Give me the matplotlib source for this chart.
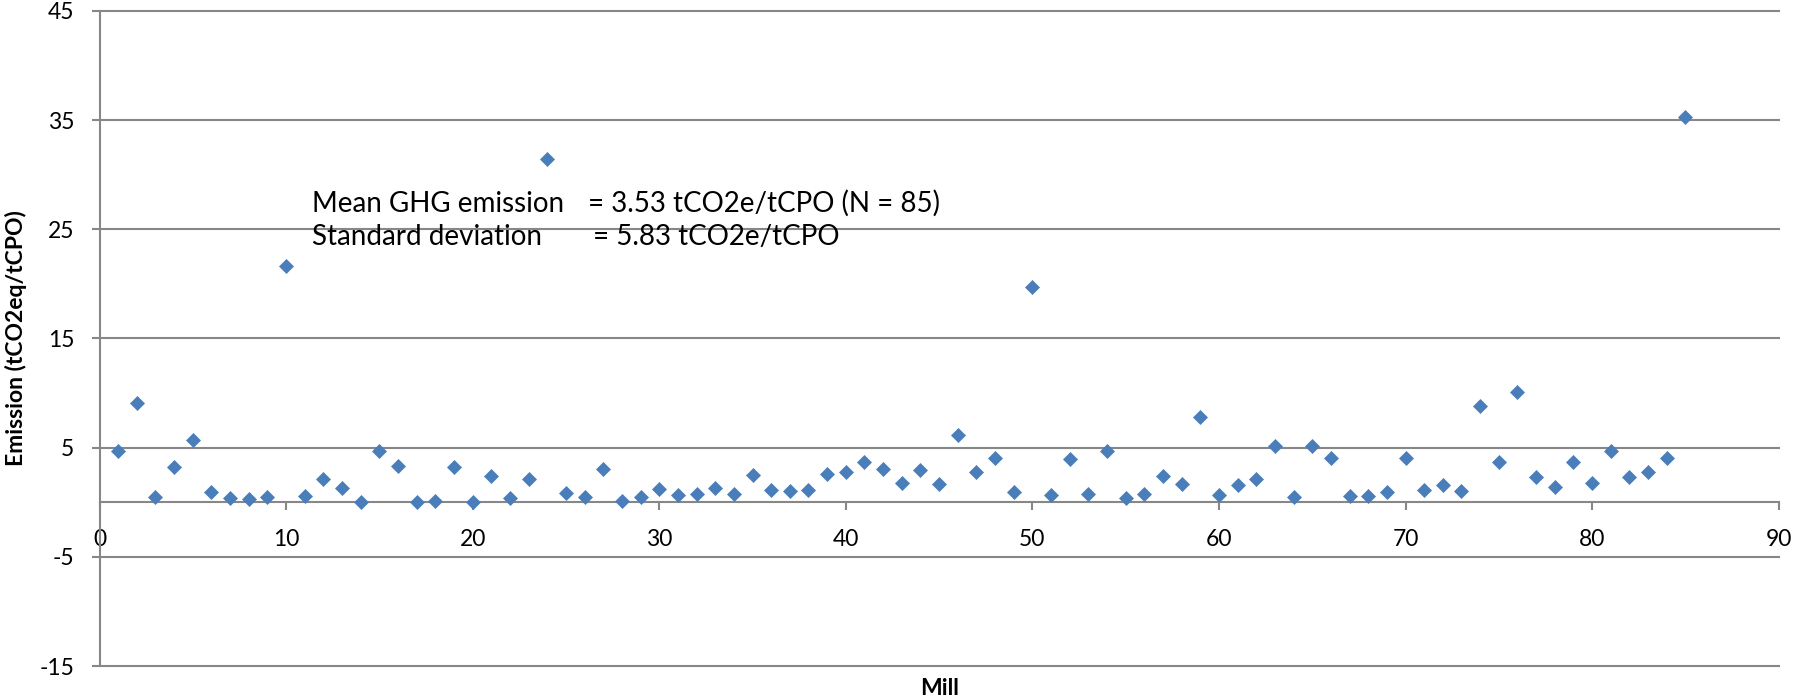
import numpy as np
import matplotlib
matplotlib.use("Agg")
import matplotlib.pyplot as plt

plt.rcParams['font.family'] = ['Lato', 'DejaVu Sans']
plt.rcParams['axes.unicode_minus'] = False

# GHG emission per mill (tCO2eq/tCPO), mills numbered 1..85
mill = np.arange(1, 86)
emission = [
    4.74, 9.05, 0.46, 3.24, 5.69, 0.95, 0.37, 0.28, 0.46, 21.65,
    0.55, 2.17, 1.35, 0.00, 4.68, 3.33, 0.00, 0.15, 3.24, 0.03,
    2.41, 0.43, 2.14, 31.47, 0.89, 0.46, 3.09, 0.15, 0.49, 1.25,
    0.70, 0.80, 1.35, 0.80, 2.51, 1.10, 1.01, 1.16, 2.57, 2.78,
    3.70, 3.03, 1.77, 2.94, 1.71, 6.15, 2.78, 4.04, 0.98, 19.70,
    0.64, 3.98, 0.80, 4.68, 0.43, 0.73, 2.39, 1.65, 7.77, 0.64,
    1.59, 2.17, 5.14, 0.49, 5.17, 4.01, 0.58, 0.61, 0.92, 4.01,
    1.16, 1.56, 1.07, 8.78, 3.70, 10.12, 2.29, 1.44, 3.67, 1.77,
    4.68, 2.35, 2.81, 4.07, 35.29,
]
x_ticks = np.arange(0, 91, 10)
y_ticks = np.arange(-15, 46, 10)

grey = '#878787'

fig = plt.figure(figsize=(17.93, 6.99), dpi=100)
ax = fig.add_axes([0.0555, 0.0472, 0.9365, 0.9371])

ax.plot(mill, emission, linestyle='none', marker='D', markersize=7.4,
        color='#4A7EBB', markeredgecolor='#4A7EBB', markeredgewidth=0.5, zorder=3)

ax.set_xlim(0, 90)
ax.set_ylim(-15, 45)
ax.set_xticks(x_ticks)
ax.set_yticks(y_ticks)

# horizontal gridlines, kept whole at the top and bottom edges
ax.yaxis.grid(True, color=grey, linewidth=1.5)
ax.set_axisbelow(True)
for line in ax.get_ygridlines():
    line.set_clip_on(False)

# x axis crosses at zero
ax.spines['bottom'].set_position(('data', 0))
ax.spines['top'].set_visible(False)
ax.spines['right'].set_visible(False)
for side in ['bottom', 'left']:
    ax.spines[side].set_color(grey)
    ax.spines[side].set_linewidth(1.5)

ax.tick_params(axis='x', direction='out', length=5.5, width=1.5, color=grey,
               labelsize=16.5, pad=14)
ax.tick_params(axis='y', direction='out', length=5.5, width=1.5, color=grey,
               labelsize=16.5, pad=12.5)

ax.set_ylabel('Emission (tCO2eq/tCPO)', fontsize=16.5, fontweight='bold', va='center')
ax.yaxis.set_label_coords(-0.0495, 0.5)
ax.set_xlabel('Mill', fontsize=16.5, fontweight='bold', va='center')
ax.xaxis.set_label_coords(0.5, -0.034)

# summary statistics
ax.text(11.39, 26.61, 'Mean GHG emission', fontsize=20, va='baseline')
ax.text(26.2, 26.61, '= 3.53 tCO2e/tCPO (N = 85)', fontsize=20, va='baseline')
ax.text(11.39, 23.55, 'Standard deviation', fontsize=20, va='baseline')
ax.text(26.45, 23.55, '= 5.83 tCO2e/tCPO', fontsize=20, va='baseline')

fig.savefig('out.png', dpi=100)
